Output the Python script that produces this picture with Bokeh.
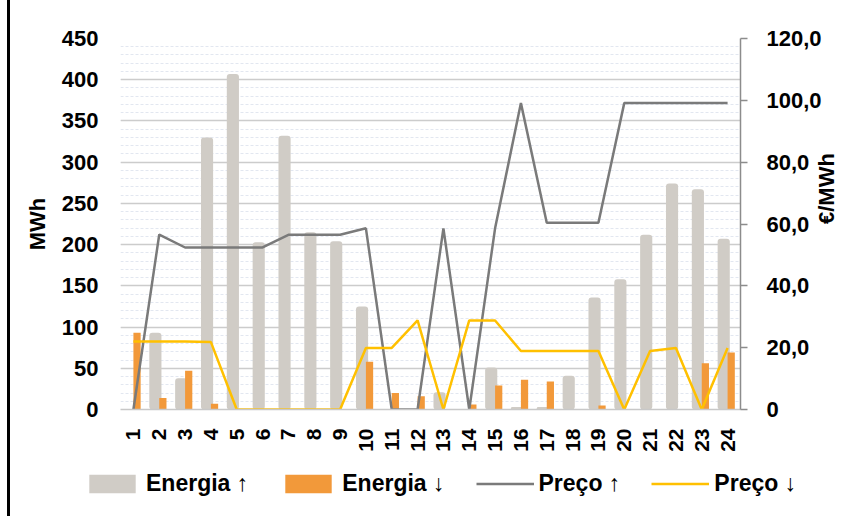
import math
from bokeh.plotting import figure
from bokeh.models import (FactorRange, Range1d, LinearAxis, FixedTicker, SingleIntervalTicker,
                          Legend, LegendItem, ColumnDataSource)
from bokeh.transform import dodge
from bokeh.embed import file_html
from bokeh.resources import INLINE

hours = [str(i) for i in range(1, 25)]
energia_up = [0, 93, 38, 330, 407, 203, 332, 215, 204, 125, 0, 0, 21, 0, 51, 3, 3, 41, 136, 158, 212, 274, 267, 207]
energia_down = [93, 14, 47, 7, 0, 0, 0, 0, 0, 58, 20, 16, 0, 6, 29, 36, 34, 0, 5, 0, 0, 0, 56, 69]
preco_up = [0, 56.6, 52.4, 52.4, 52.4, 52.4, 56.5, 56.5, 56.5, 58.6, 0, 0, 58.6, 0, 58.6, 99.1,
            60.4, 60.4, 60.4, 99.1, 99.1, 99.1, 99.1, 99.1]
preco_down = [22.0, 22.0, 22.0, 21.8, 0, 0, 0, 0, 0, 19.9, 19.9, 28.8, 0, 28.8, 28.8, 18.9,
              18.9, 18.9, 18.9, 0, 18.9, 19.9, 0, 19.9]
price_ticks = [0, 20, 40, 60, 80, 100, 120]
price_labels = ["0", "20,0", "40,0", "60,0", "80,0", "100,0", "120,0"]
legend_labels = ["Energia \u2191", "Energia \u2193", "Pre\u00e7o \u2191", "Pre\u00e7o \u2193"]
y_title = "MWh"
y2_title = "\u20ac/MWh"

FONT = "Liberation Sans"
C_EU, C_ED, C_PU, C_PD = "#d0ccc6", "#f2993a", "#7a7a7a", "#ffc000"
src = ColumnDataSource(dict(hour=hours, eu=energia_up, ed=energia_down, pu=preco_up, pd=preco_down))
src2 = ColumnDataSource(dict(hour=hours, eu=energia_up, ed=energia_down, pu=preco_up, pd=preco_down))


def add_series(fig, source):
    a = fig.vbar(x=dodge("hour", -0.15, range=fig.x_range), top="eu", width=0.47, source=source,
                 fill_color=C_EU, line_color=None, border_radius=3)
    b = fig.vbar(x=dodge("hour", 0.14, range=fig.x_range), top="ed", width=0.28, source=source,
                 fill_color=C_ED, line_color=None)
    c = fig.line(x="hour", y="pu", source=source, y_range_name="price", line_color=C_PU, line_width=2.5)
    d = fig.line(x="hour", y="pd", source=source, y_range_name="price", line_color=C_PD, line_width=2.5)
    return a, b, c, d


p = figure(width=844, height=457, x_range=FactorRange(*hours), y_range=Range1d(0, 450),
           output_backend="svg", toolbar_location=None,
           min_border_left=110, min_border_right=112, min_border_top=38, min_border_bottom=48)
p.styles = {"border-left": "3px solid black", "margin-left": "7px"}
p.outline_line_color = None
p.background_fill_color = "white"
p.border_fill_color = "white"
p.extra_y_ranges = {"price": Range1d(0, 120)}
add_series(p, src)

# left axis
ya = p.yaxis[0]
ya.ticker = SingleIntervalTicker(interval=50, num_minor_ticks=5)
ya.axis_line_color = None
ya.major_tick_line_color = None
ya.minor_tick_line_color = None
ya.major_label_standoff = 16
ya.major_label_text_font = FONT
ya.major_label_text_font_style = "bold"
ya.major_label_text_font_size = "22px"
ya.major_label_text_color = "black"
ya.axis_label = y_title
ya.axis_label_text_font = FONT
ya.axis_label_text_font_style = "bold"
ya.axis_label_text_font_size = "22px"
ya.axis_label_text_color = "black"
ya.axis_label_standoff = 9

# right axis
ra = LinearAxis(y_range_name="price", ticker=FixedTicker(ticks=price_ticks))
ra.major_label_overrides = {t: l for t, l in zip(price_ticks, price_labels)}
ra.axis_line_color = "#8c8c8c"
ra.axis_line_width = 1.5
ra.major_tick_line_color = "#8c8c8c"
ra.major_tick_line_width = 1.5
ra.major_tick_out = 7
ra.major_tick_in = 0
ra.minor_tick_line_color = None
ra.major_label_standoff = 19
ra.major_label_text_font = FONT
ra.major_label_text_font_style = "bold"
ra.major_label_text_font_size = "22px"
ra.major_label_text_color = "black"
ra.axis_label = y2_title
ra.axis_label_text_font = FONT
ra.axis_label_text_font_style = "bold"
ra.axis_label_text_font_size = "22px"
ra.axis_label_text_color = "black"
ra.axis_label_standoff = 2
ra.axis_label_orientation = math.pi / 2
p.add_layout(ra, "right")

# x axis
xa = p.xaxis[0]
xa.axis_line_color = "#c8c8c8"
xa.axis_line_width = 1.5
xa.major_tick_line_color = None
xa.minor_tick_line_color = None
xa.major_label_orientation = math.pi / 2
xa.major_label_standoff = 13
xa.major_label_text_font = FONT
xa.major_label_text_font_style = "bold"
xa.major_label_text_font_size = "21px"
xa.major_label_text_color = "black"

p.xgrid.grid_line_color = None
p.ygrid.grid_line_color = "#cccccc"
p.ygrid.grid_line_width = 1.5
p.ygrid.minor_grid_line_color = "#e2e7f0"
p.ygrid.minor_grid_line_dash = "3 2"
p.ygrid.minor_grid_line_width = 1

# legend strip: same series, drawn out of its visible range, only the legend shows
p2 = figure(width=844, height=59, x_range=FactorRange(*hours), y_range=Range1d(1000, 1001),
            output_backend="svg", toolbar_location=None, x_axis_type=None, y_axis_type=None,
            min_border_left=0, min_border_right=0, min_border_top=0, min_border_bottom=0)
p2.styles = {"border-left": "3px solid black", "margin-left": "7px"}
p2.extra_y_ranges = {"price": Range1d(1000, 1001)}
p2.outline_line_color = None
p2.grid.grid_line_color = None
p2.border_fill_color = "white"
l_eu, l_ed, l_pu, l_pd = add_series(p2, src2)

legend = Legend(items=[LegendItem(label=legend_labels[0], renderers=[l_eu]),
                       LegendItem(label=legend_labels[1], renderers=[l_ed]),
                       LegendItem(label=legend_labels[2], renderers=[l_pu]),
                       LegendItem(label=legend_labels[3], renderers=[l_pd])],
                orientation="horizontal", location=(73, 19))
legend.glyph_width = 58
legend.glyph_height = 23
legend.label_standoff = 5
legend.spacing = 31
legend.padding = 0
legend.margin = 0
legend.border_line_color = None
legend.background_fill_alpha = 0
legend.label_text_font = FONT
legend.label_text_font_style = "bold"
legend.label_text_font_size = "23px"
legend.label_text_color = "black"
p2.add_layout(legend, "center")

open("out.html", "w").write(file_html([p, p2], INLINE))
